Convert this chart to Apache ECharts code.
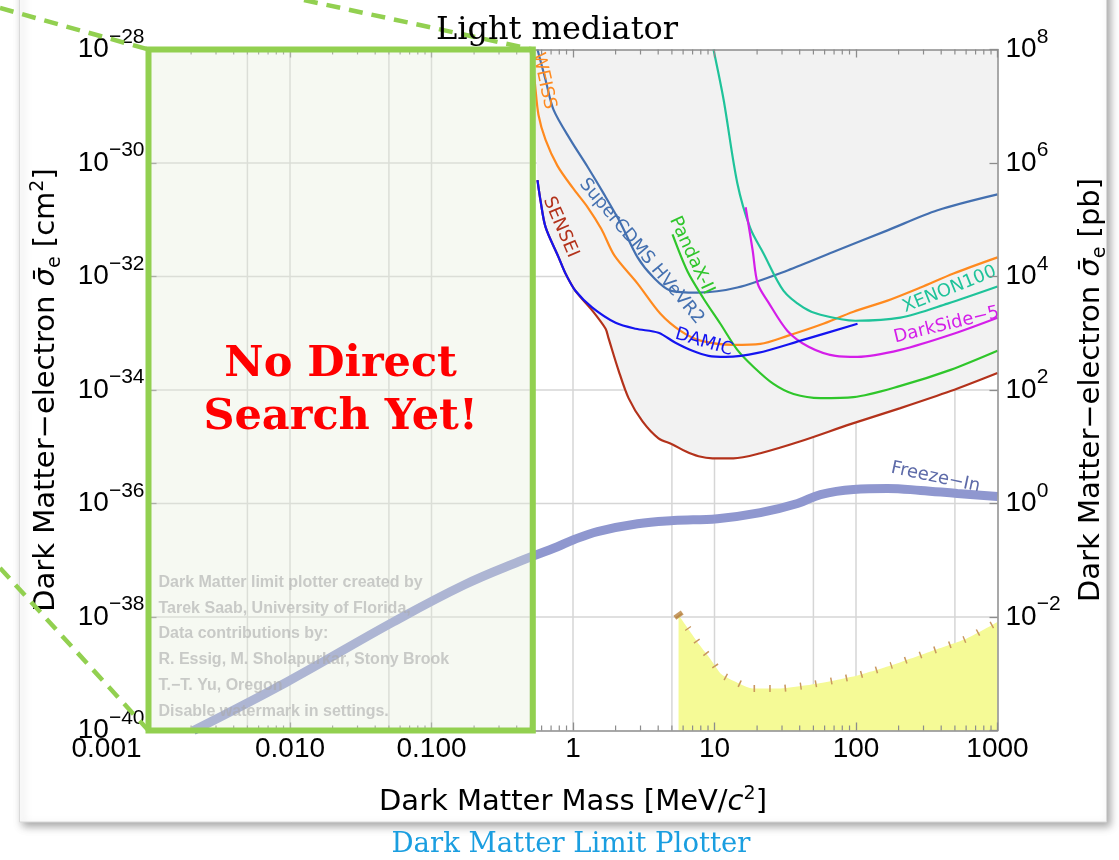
<!DOCTYPE html>
<html>
<head>
<meta charset="utf-8">
<title>Light mediator</title>
<script src="https://cdn.jsdelivr.net/npm/echarts@6.0.0/dist/echarts.min.js"></script>
<style>
  html, body { margin: 0; padding: 0; background: #ffffff; }
  #chart { width: 1119px; height: 860px; }
</style>
</head>
<body>
<div id="chart"></div>
<script>
// Dark matter - electron scattering limits, light mediator.
// Every curve: [DM mass in MeV/c^2, cross-section in cm^2]

const SENSEI = [
  [0.561, 5.0e-31], [0.589, 2.2e-31], [0.640, 7.4e-32], [0.790, 2.2e-32], [0.885, 1.13e-32],
  [1.04, 5.6e-33], [1.37, 2.5e-33], [1.70, 1.2e-33], [1.78, 8.3e-34], [2.10, 2.2e-34],
  [2.47, 7.2e-35], [3.10, 2.8e-35], [4.02, 1.41e-35], [5.05, 1.1e-35], [6.24, 8.3e-36],
  [7.71, 6.8e-36], [9.68, 6.25e-36], [13.6, 6.25e-36], [21.1, 7.7e-36], [40.6, 1.25e-35],
  [91.4, 2.5e-35], [206, 4.8e-35], [466, 9.6e-35], [1000, 2.0e-34]
];

const DAMIC = [
  [0.561, 5.0e-31], [0.589, 2.2e-31], [0.640, 7.4e-32], [0.790, 2.2e-32], [0.885, 1.13e-32],
  [1.04, 5.6e-33], [1.37, 2.83e-33], [2.00, 1.53e-33], [2.77, 1.2e-33], [4.02, 1.02e-33],
  [5.30, 6.8e-34], [6.99, 4.9e-34], [9.07, 4.0e-34], [12.0, 3.84e-34], [20.2, 4.5e-34],
  [40.6, 7.4e-34], [102.5, 1.47e-33]
];

const EDELWEISS = [
  [0.501, 1.0e-28], [0.535, 2.9e-29], [0.570, 7.1e-30], [0.640, 2.55e-30], [0.777, 8.9e-31],
  [1.0, 3.6e-31], [1.27, 1.66e-31], [1.59, 6.8e-32], [1.96, 2.35e-32], [2.86, 7.5e-33],
  [4.15, 2.2e-33], [5.75, 1.1e-33], [7.96, 7.4e-34], [13.6, 6.25e-34], [21.1, 6.5e-34],
  [32.8, 9.0e-34], [56.1, 1.41e-33], [96, 2.4e-33], [167, 3.76e-33], [286, 6.4e-33],
  [489, 1.13e-32], [1000, 2.17e-32]
];

const SUPERCDMS = [
  [0.561, 1.0e-28], [0.640, 2.9e-29], [0.728, 8.7e-30], [0.96, 2.55e-30], [1.27, 8.5e-31],
  [1.64, 2.94e-31], [2.17, 8.7e-32], [2.86, 2.17e-32], [3.71, 9.6e-33], [4.89, 5.65e-33],
  [7.59, 5.2e-33], [14.5, 6.4e-33], [32.8, 1.28e-32], [74, 2.9e-32], [167, 6.5e-32],
  [377, 1.47e-31], [1000, 2.8e-31]
];

const PANDAX = [
  [5.05, 5.5e-32], [6.45, 1.22e-32], [8.36, 4.1e-33], [11.0, 1.47e-33], [14.5, 5.1e-34],
  [18.9, 2.55e-34], [26.1, 1.28e-34], [36.2, 8.5e-35], [56.1, 7.2e-35], [96, 7.5e-35],
  [206, 1.18e-34], [466, 2.26e-34], [1000, 4.9e-34]
];

const XENON100 = [
  [9.84, 1.0e-28], [11.6, 1.3e-29], [14.5, 4.4e-31], [17.9, 7.1e-32], [22.2, 2.55e-32],
  [30.7, 5.65e-33], [42.6, 2.83e-33], [56.1, 2.12e-33], [99, 1.66e-33], [206, 1.88e-33],
  [444, 3.33e-33], [1000, 6.65e-33]
];

const DARKSIDE50 = [
  [16.6, 1.66e-31], [18.6, 2.9e-32], [20.2, 7.5e-33], [24.1, 3.47e-33], [32.8, 1.1e-33],
  [46.2, 5.8e-34], [71.6, 4.0e-34], [102.5, 3.84e-34], [206, 5.1e-34], [466, 9.4e-34],
  [1000, 1.88e-33]
];

const FREEZE_IN = [
  [0.00208, 1.0e-40], [0.00944, 7.1e-40], [0.0538, 8.2e-39], [0.171, 3.7e-38], [0.412, 9.4e-38],
  [0.777, 1.73e-37], [1.01, 2.3e-37], [1.49, 3.2e-37], [2.86, 4.4e-37], [5.13, 5.0e-37],
  [10.5, 5.4e-37], [21.1, 6.9e-37], [38.6, 1.0e-36], [56.1, 1.44e-36], [96, 1.77e-36],
  [167, 1.84e-36], [286, 1.7e-36], [521, 1.5e-36], [1000, 1.33e-36]
];

// hatched-edge shaded floor along the bottom
const SHADED_FLOOR = [
  [5.57, 1.08e-38], [6.55, 6.1e-39], [7.84, 3.2e-39], [9.37, 1.81e-39], [11.2, 9.8e-40],
  [14.3, 7.1e-40], [18.6, 5.5e-40], [29.3, 5.5e-40], [44.7, 6.25e-40], [71.6, 7.7e-40],
  [104, 9.4e-40], [178, 1.41e-39], [325, 2.4e-39], [594, 4.1e-39], [1000, 8.2e-39]
];

// mass range with no direct search yet
const NO_SEARCH_MASS = [0.001, 0.52];

// axes
const X_TICK_LABELS = ['0.001', '0.010', '0.100', '1', '10', '100', '1000'];
const GRID_MASSES = [0.005, 0.01, 0.05, 0.1, 0.5, 1, 5, 10, 50, 100, 500];
const GRID_XS = [1e-38, 1e-36, 1e-34, 1e-32, 1e-30];
const X_MIN = -3, X_MAX = 3, Y_MIN = -40, Y_MAX = -28;

const WATERMARK = [
  'Dark Matter limit plotter created by',
  'Tarek Saab, University of Florida,',
  'Data contributions by:',
  'R. Essig, M. Sholapurkar, Stony Brook',
  'T.\u2212T. Yu, Oregon',
  'Disable watermark in settings.'
];

const C = {
  sensei: '#b3321b', damic: '#1414f0', edel: '#ff8a1f', cdms: '#4470b0',
  pandax: '#2fc62b', xenon: '#1fc39a', darkside: '#d41ee9', freeze: '#8f97cf',
  freezeText: '#5d6aa8', floor: '#f5fa96', hatch: '#c9975e', green: '#92d050',
  grid: '#d6d6d6', axis: '#8c8c8c', excluded: '#f2f2f2'
};

const SANS = '"DejaVu Sans", "Liberation Sans", sans-serif';
const ARIAL = '"Liberation Sans", Arial, sans-serif';
const SERIF = '"DejaVu Serif", "Liberation Serif", serif';

const CURVE_LABELS = [
  { text: 'EDELWEISS', at: [0.575, 6.8e-29], angle: -77.6, color: C.edel },
  { text: 'SENSEI', at: [0.817, 7.4e-32], angle: -66.6, color: C.sensei },
  { text: 'SuperCDMS HVeVR2', at: [3.05, 2.77e-32], angle: -50, color: C.cdms },
  { text: 'PandaX-II', at: [6.88, 2.35e-32], angle: -65, color: C.pandax },
  { text: 'XENON100', at: [458, 5.9e-33], angle: 21.9, color: C.xenon },
  { text: 'DarkSide\u221250', at: [478, 1.47e-33], angle: 13.7, color: C.darkside },
  { text: 'DAMIC', at: [8.43, 6.93e-34], angle: -16.6, color: C.damic },
  { text: 'Freeze\u2212In', at: [365, 2.88e-36], angle: -12, color: C.freezeText }
];

const lg = Math.log10;
const toXY = arr => arr.map(p => [lg(p[0]), lg(p[1])]);

// excluded region: everything above the lowest limit
const ENVELOPE = EDELWEISS.filter(p => p[0] < SENSEI[0][0]).concat(SENSEI);

function limitLine(name, data, color) {
  return {
    name, type: 'line', data: toXY(data), showSymbol: false, smooth: 0.3, z: 4,
    silent: true, lineStyle: { color, width: 2.2 }
  };
}

function textStyle(text, font, fill, align, vAlign, extra) {
  return Object.assign({
    text, font, fill, align, verticalAlign: vAlign, textAlign: align, textVerticalAlign: vAlign
  }, extra || {});
}

function drawGrid(params, api) {
  const cs = params.coordSys;
  const kids = [];
  GRID_MASSES.forEach(m => {
    const x = api.coord([lg(m), -34])[0];
    kids.push({ type: 'line', shape: { x1: x, y1: cs.y, x2: x, y2: cs.y + cs.height },
      style: { stroke: C.grid, lineWidth: 1.5 } });
  });
  GRID_XS.forEach(s => {
    const y = api.coord([0, lg(s)])[1];
    kids.push({ type: 'line', shape: { x1: cs.x, y1: y, x2: cs.x + cs.width, y2: y },
      style: { stroke: C.grid, lineWidth: 1.5 } });
  });
  return { type: 'group', children: kids };
}

function drawMinorTicks(params, api) {
  const cs = params.coordSys;
  const kids = [];
  for (let d = X_MIN; d < X_MAX; d++) {
    for (let k = 2; k <= 9; k++) {
      const x = api.coord([d + lg(k), -34])[0];
      const yb = cs.y + cs.height, yt = cs.y;
      kids.push({ type: 'line', shape: { x1: x, y1: yb, x2: x, y2: yb - 5 },
        style: { stroke: C.axis, lineWidth: 1.2 } });
      kids.push({ type: 'line', shape: { x1: x, y1: yt, x2: x, y2: yt + 5 },
        style: { stroke: C.axis, lineWidth: 1.2 } });
    }
  }
  return { type: 'group', children: kids };
}

function drawLabels(params, api) {
  const l = CURVE_LABELS[params.dataIndex];
  const p = api.coord([api.value(0), api.value(1)]);
  return {
    type: 'text', x: p[0], y: p[1], rotation: l.angle * Math.PI / 180,
    style: textStyle(l.text, '18px ' + SANS, l.color, 'center', 'middle')
  };
}

function drawNoSearchBox(params, api) {
  const a = api.coord([lg(NO_SEARCH_MASS[0]), Y_MAX]);
  const b = api.coord([lg(NO_SEARCH_MASS[1]), Y_MIN]);
  const cx = (a[0] + b[0]) / 2, cy = (a[1] + b[1]) / 2;
  return {
    type: 'group',
    children: [
      { type: 'rect', shape: { x: a[0], y: a[1], width: b[0] - a[0], height: b[1] - a[1] },
        style: { fill: 'rgba(228,238,218,0.35)', stroke: null } },
      { type: 'text', x: a[0] + 10, y: b[1] - 161,
        style: textStyle(WATERMARK.join('\n'), 'bold 16px ' + ARIAL, 'rgba(170,170,170,0.6)', 'left', 'top',
          { lineHeight: 25.8 }) },
      { type: 'text', x: cx, y: cy + 1,
        style: textStyle('No Direct\nSearch Yet!', 'bold 43px ' + SERIF, '#ff0000', 'center', 'middle',
          { lineHeight: 53 }) },
      { type: 'rect', shape: { x: a[0], y: a[1], width: b[0] - a[0], height: b[1] - a[1] },
        style: { fill: null, stroke: C.green, lineWidth: 6 } }
    ]
  };
}

const supRich = {
  b: { fontSize: 28, fontFamily: ARIAL, color: '#000', lineHeight: 46 },
  s: { fontSize: 21, fontFamily: ARIAL, color: '#000', lineHeight: 6, verticalAlign: 'top' }
};

const nameRich = {
  sg: { fontSize: 29, fontFamily: SANS, fontStyle: 'italic', color: '#000', lineHeight: 36 },
  sub: { fontSize: 19, fontFamily: SANS, color: '#000', lineHeight: 18, verticalAlign: 'bottom' },
  sup: { fontSize: 19, fontFamily: SANS, color: '#000', lineHeight: 14, verticalAlign: 'top' },
  it: { fontSize: 29, fontFamily: SANS, fontStyle: 'italic', color: '#000', lineHeight: 36 }
};

const nameStyle = { fontSize: 29, fontFamily: SANS, color: '#000', lineHeight: 36, rich: nameRich };

const expText = v => (v < 0 ? '\u2212' + (-v) : String(v));

const axisCommon = {
  type: 'value', z: 10,
  axisLine: { show: true, onZero: false, lineStyle: { color: C.axis, width: 1.5 } },
  axisTick: { show: true, inside: true, length: 8, lineStyle: { color: C.axis, width: 1.3 } },
  splitLine: { show: false }
};

const option = {
  backgroundColor: '#ffffff',
  animation: false,
  grid: { left: 148.5, right: 121.5, top: 49.5, bottom: 129.5, containLabel: false },
  xAxis: [
    Object.assign({}, axisCommon, {
      min: X_MIN, max: X_MAX, interval: 1, position: 'bottom',
      axisLabel: {
        margin: 5, fontSize: 28, fontFamily: ARIAL, color: '#000',
        showMinLabel: true, showMaxLabel: true,
        formatter: v => {
          const t = X_TICK_LABELS[Math.round(v) - X_MIN];
          return v === X_MIN ? '{first|' + t + '}' : t;
        },
        rich: { first: { fontSize: 28, fontFamily: ARIAL, color: '#000', padding: [0, 84, 0, 0] } }
      },
      name: 'Dark Matter Mass [MeV/{it|c}{sup|2}]',
      nameLocation: 'middle', nameGap: 54, nameTextStyle: nameStyle
    }),
    Object.assign({}, axisCommon, {
      min: X_MIN, max: X_MAX, interval: 1, position: 'top', axisLabel: { show: false }
    })
  ],
  yAxis: [
    Object.assign({}, axisCommon, {
      min: Y_MIN, max: Y_MAX, interval: 2, position: 'left',
      axisLabel: {
        margin: 4, showMinLabel: true, showMaxLabel: true,
        formatter: v => '{b|10}{s|' + expText(v) + '}', rich: supRich
      },
      name: 'Dark Matter\u2212electron {sg|\u03c3\u0304}{sub|e} [cm{sup|2}]',
      nameLocation: 'middle', nameRotate: 90, nameGap: 84, nameTextStyle: nameStyle
    }),
    Object.assign({}, axisCommon, {
      min: Y_MIN + 36, max: Y_MAX + 36, interval: 2, position: 'right',
      axisLabel: {
        margin: 8, showMinLabel: true, showMaxLabel: true,
        formatter: v => (v === Y_MIN + 36 ? '' : '{b|10}{s|' + expText(v) + '}'), rich: supRich
      },
      name: 'Dark Matter\u2212electron {sg|\u03c3\u0304}{sub|e} [pb]',
      nameLocation: 'middle', nameRotate: 90, nameGap: 76, nameTextStyle: nameStyle
    })
  ],
  graphic: [
    { type: 'rect', z: -10, silent: true, shape: { x: 19.5, y: -20, width: 1087, height: 842 },
      style: { fill: '#ffffff', stroke: '#d9d9d9', lineWidth: 1,
        shadowBlur: 8, shadowOffsetX: 3, shadowOffsetY: 4, shadowColor: 'rgba(0,0,0,0.35)' } },
    { type: 'polyline', z: 20, silent: true, shape: { points: [[0, 8], [148.5, 49.5]] },
      style: { stroke: C.green, lineWidth: 4.5, lineDash: [14, 9], fill: null } },
    { type: 'polyline', z: 20, silent: true, shape: { points: [[304, 0], [533, 49.5]] },
      style: { stroke: C.green, lineWidth: 4.5, lineDash: [14, 9], fill: null } },
    { type: 'polyline', z: 20, silent: true, shape: { points: [[0, 568], [148.5, 730.5]] },
      style: { stroke: C.green, lineWidth: 4.5, lineDash: [14, 9], fill: null } },
    { type: 'text', z: 21, silent: true, x: 557, y: 31,
      style: textStyle('Light mediator', '32px ' + SERIF, '#000', 'center', 'middle') },
    { type: 'text', z: 21, silent: true, x: 571, y: 845,
      style: textStyle('Dark Matter Limit Plotter', '27.5px ' + SERIF, '#1a9ee0', 'center', 'middle') }
  ],
  series: [
    { type: 'custom', z: 1, silent: true, data: [[0, -34]], encode: { x: 0, y: 1 }, renderItem: drawGrid },
    { type: 'line', z: 2, silent: true, data: toXY(ENVELOPE), showSymbol: false, smooth: 0.3,
      lineStyle: { width: 0, opacity: 0 }, areaStyle: { origin: 'end', color: C.excluded, opacity: 1 } },
    { type: 'line', z: 2, silent: true, data: toXY(SHADED_FLOOR), showSymbol: false, smooth: 0.2,
      lineStyle: { color: C.hatch, width: 7, type: [1.5, 14] },
      areaStyle: { origin: 'start', color: C.floor, opacity: 1 } },
    { type: 'scatter', z: 4, silent: true, data: [toXY(SHADED_FLOOR)[0]], symbol: 'rect',
      symbolSize: [9, 5], symbolRotate: 35, itemStyle: { color: '#b8823f' } },
    { type: 'line', z: 3, silent: true, data: toXY(FREEZE_IN), showSymbol: false, smooth: 0.4,
      lineStyle: { color: C.freeze, width: 9 } },
    limitLine('SENSEI', SENSEI, C.sensei),
    limitLine('EDELWEISS', EDELWEISS, C.edel),
    limitLine('SuperCDMS HVeVR2', SUPERCDMS, C.cdms),
    limitLine('XENON100', XENON100, C.xenon),
    limitLine('DarkSide-50', DARKSIDE50, C.darkside),
    limitLine('PandaX-II', PANDAX, C.pandax),
    limitLine('DAMIC', DAMIC, C.damic),
    { type: 'custom', z: 6, silent: true, clip: true,
      data: CURVE_LABELS.map(l => [lg(l.at[0]), lg(l.at[1])]), encode: { x: 0, y: 1 },
      renderItem: drawLabels },
    { type: 'custom', z: 11, silent: true, data: [[0, -34]], encode: { x: 0, y: 1 }, renderItem: drawMinorTicks },
    { type: 'custom', z: 12, silent: true, data: [[0, -34]], encode: { x: 0, y: 1 }, renderItem: drawNoSearchBox }
  ]
};

const chart = echarts.init(document.getElementById('chart'), null, { renderer: 'canvas' });
chart.setOption(option);
</script>
</body>
</html>
